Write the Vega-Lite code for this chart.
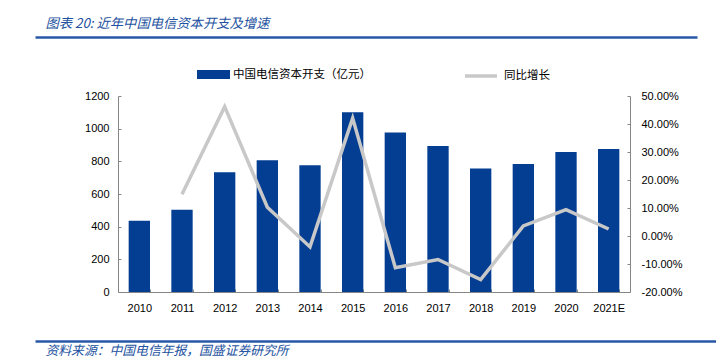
{
  "$schema": "https://vega.github.io/schema/vega-lite/v6.json",
  "width": 512,
  "height": 196,
  "autosize": {"type": "none"},
  "padding": {"left": 118, "top": 96, "right": 86, "bottom": 71},
  "background": "white",
  "config": {
    "view": {"stroke": null},
    "axis": {"grid": false, "labelFont": "Liberation Sans", "labelFontSize": 11, "labelColor": "#000000"}
  },
  "data": {
    "values": [
      {"year": "2010", "capex": 436, "growth": null},
      {"year": "2011", "capex": 503, "growth": 0.149},
      {"year": "2012", "capex": 733, "growth": 0.462},
      {"year": "2013", "capex": 806, "growth": 0.103},
      {"year": "2014", "capex": 776, "growth": -0.039},
      {"year": "2015", "capex": 1100, "growth": 0.421},
      {"year": "2016", "capex": 976, "growth": -0.113},
      {"year": "2017", "capex": 894, "growth": -0.084},
      {"year": "2018", "capex": 756, "growth": -0.156},
      {"year": "2019", "capex": 784, "growth": 0.036},
      {"year": "2020", "capex": 857, "growth": 0.094},
      {"year": "2021E", "capex": 876, "growth": 0.025}
    ]
  },
  "resolve": {"scale": {"x": "independent", "y": "independent"}},
  "layer": [
    {
      "resolve": {"scale": {"y": "independent"}},
      "layer": [
        {
          "mark": {"type": "bar"},
          "encoding": {
            "x": {
              "field": "year", "type": "nominal", "sort": null,
              "scale": {"paddingInner": 0.5, "paddingOuter": 0.25},
              "axis": {"title": null, "labelAngle": 0, "domainColor": "#868686", "tickColor": "#868686", "tickSize": -3, "tickBand": "extent", "labelPadding": 13}
            },
            "y": {
              "field": "capex", "type": "quantitative",
              "scale": {"domain": [0, 1200]},
              "axis": {"title": null, "format": "d", "values": [0, 200, 400, 600, 800, 1000, 1200], "domainColor": "#868686", "tickColor": "#868686", "tickSize": -3, "labelPadding": 12}
            },
            "color": {
              "datum": "中国电信资本开支（亿元）",
              "scale": {"range": ["#033E92"]},
              "legend": {"orient": "none", "legendX": 79, "legendY": -38, "direction": "horizontal", "title": null, "symbolType": "M-1,-0.27H1V0.27H-1Z", "symbolSize": 1089, "symbolStrokeWidth": 0, "labelFont": "Noto Sans CJK SC", "labelFontSize": 11.5, "labelColor": "#000000", "labelOffset": 3, "padding": 0}
            }
          }
        },
        {
          "transform": [{"filter": "datum.growth != null"}],
          "mark": {"type": "line", "strokeWidth": 3.5},
          "encoding": {
            "x": {"field": "year", "type": "nominal", "sort": null},
            "y": {
              "field": "growth", "type": "quantitative",
              "scale": {"domain": [-0.2, 0.5]},
              "axis": {"orient": "right", "title": null, "format": ".2%", "values": [-0.2, -0.1, 0, 0.1, 0.2, 0.3, 0.4, 0.5], "labelExpr": "replace(datum.label, '−', '-')", "domainColor": "#868686", "tickColor": "#868686", "tickSize": -3, "labelPadding": 14}
            },
            "stroke": {
              "datum": "同比增长",
              "scale": {"range": ["#C8C8C8"]},
              "legend": {"orient": "none", "legendX": 345, "legendY": -38, "direction": "horizontal", "title": null, "symbolType": "stroke", "symbolSize": 1024, "symbolStrokeWidth": 3.5, "labelFont": "Noto Sans CJK SC", "labelFontSize": 11.5, "labelColor": "#000000", "labelOffset": 5, "padding": 0}
            }
          }
        }
      ]
    },
    {
      "mark": {"type": "rule", "opacity": 0},
      "encoding": {
        "x": {
          "datum": 0, "type": "quantitative",
          "scale": {"domain": [0, 1], "range": [-83, 579]},
          "axis": {"orient": "top", "offset": 59, "domainColor": "#2858A6", "domainWidth": 2.5, "labels": false, "ticks": false, "grid": false,
            "title": "图表 20:  近年中国电信资本开支及增速", "titleFont": "Noto Sans CJK SC", "titleFontStyle": "italic", "titleFontWeight": "normal", "titleFontSize": 13.3, "titleColor": "#2352A0", "titleX": -73, "titleY": -14, "titleAlign": "left", "titleBaseline": "middle"}
        }
      }
    },
    {
      "mark": {"type": "rule", "opacity": 0},
      "encoding": {
        "x": {
          "datum": 0, "type": "quantitative",
          "scale": {"domain": [0, 1], "range": [-83, 598]},
          "axis": {"orient": "bottom", "offset": 49, "domainColor": "#2858A6", "domainWidth": 2.5, "labels": false, "ticks": false, "grid": false,
            "title": "资料来源：中国电信年报，国盛证券研究所", "titleFont": "Noto Sans CJK SC", "titleFontStyle": "italic", "titleFontWeight": "normal", "titleFontSize": 12.8, "titleColor": "#2352A0", "titleX": -73, "titleY": 9, "titleAlign": "left", "titleBaseline": "middle"}
        }
      }
    }
  ]
}
